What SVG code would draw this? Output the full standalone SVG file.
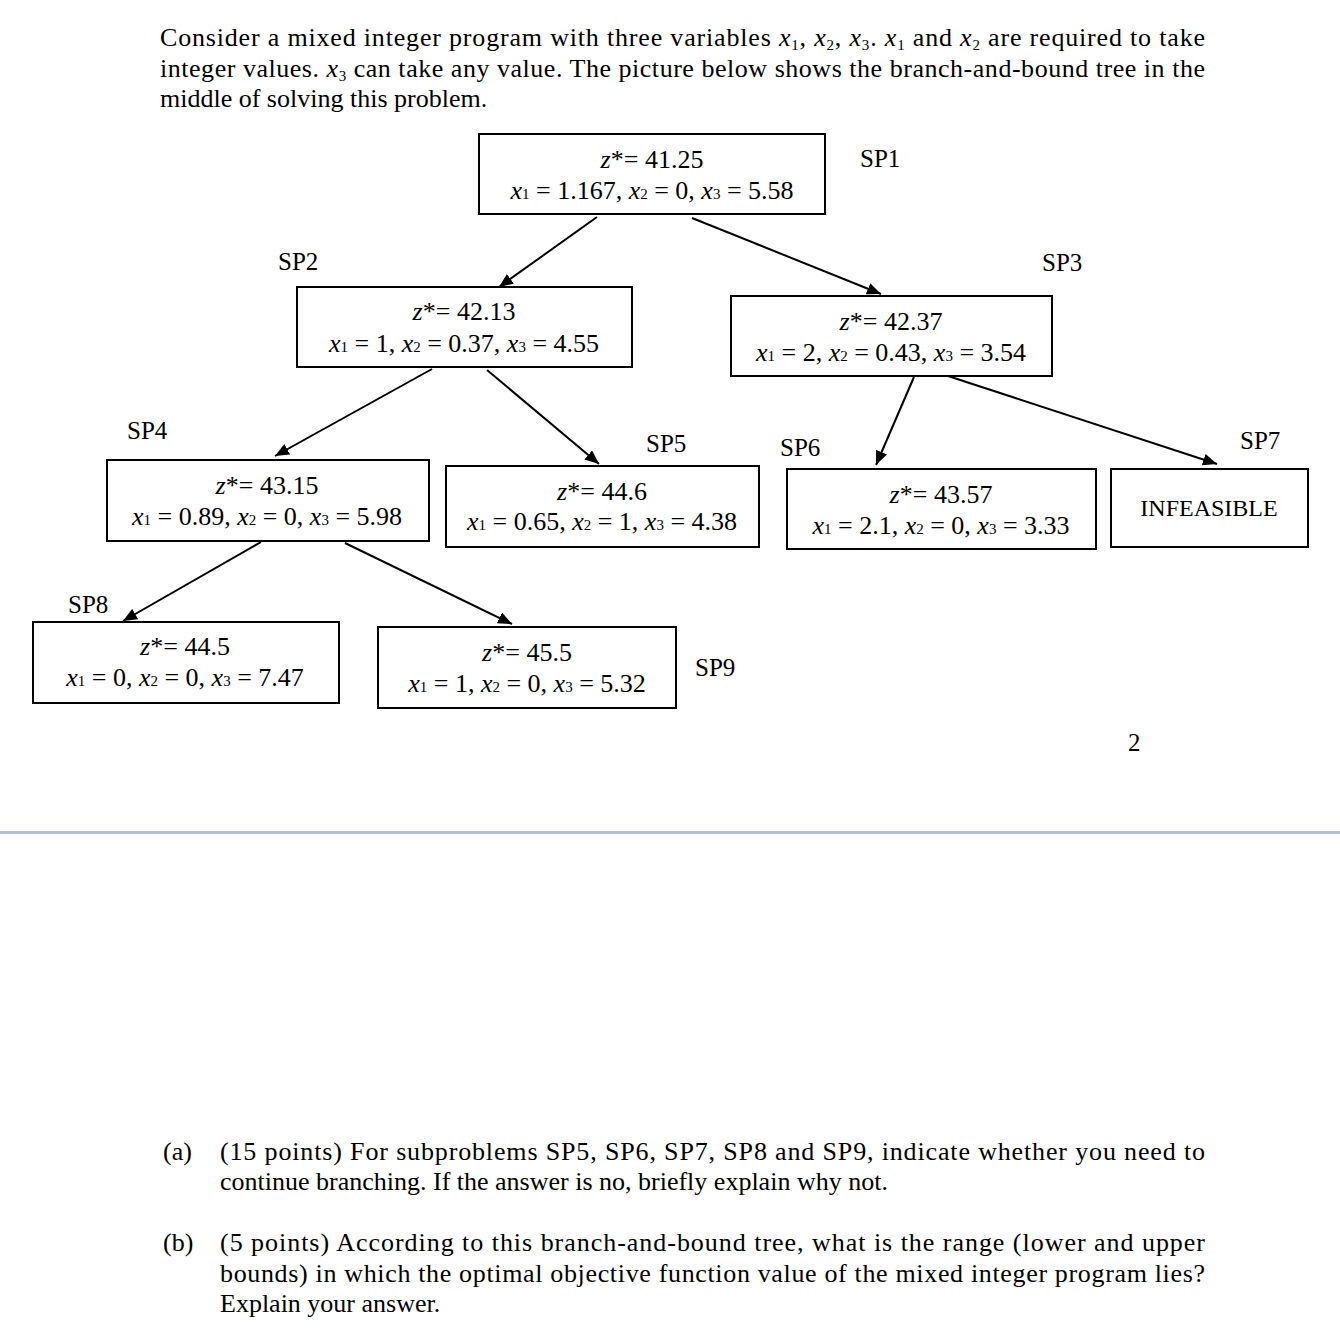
<svg xmlns="http://www.w3.org/2000/svg" width="1340" height="1334" viewBox="0 0 1340 1334">
<defs>
<marker id="ah" viewBox="0 0 14 12" refX="14" refY="6" markerWidth="14" markerHeight="12" markerUnits="userSpaceOnUse" orient="auto">
<path d="M0,0 L14,6 L0,12 z" fill="#000"/>
</marker>
<style>
text{font-family:"Liberation Serif","Times New Roman",serif;fill:#000;}
.t{font-size:26px;}
.n{font-size:26px;text-anchor:middle;}
.lab{font-size:25px;}
.i{font-style:italic;}
.s{font-size:15px;}
.box{fill:#fff;stroke:#000;stroke-width:2;}
.c{stroke:#000;stroke-width:2;fill:none;}
</style>
</defs>
<rect width="1340" height="1334" fill="#fff"/>

<g id="intro">
<text class="t" x="160" y="46" textLength="1045" lengthAdjust="spacing">Consider a mixed integer program with three variables <tspan class="i">x</tspan><tspan class="s" dy="4">1</tspan><tspan dy="-4">, </tspan><tspan class="i">x</tspan><tspan class="s" dy="4">2</tspan><tspan dy="-4">, </tspan><tspan class="i">x</tspan><tspan class="s" dy="4">3</tspan><tspan dy="-4">. </tspan><tspan class="i">x</tspan><tspan class="s" dy="4">1</tspan><tspan dy="-4"> and </tspan><tspan class="i">x</tspan><tspan class="s" dy="4">2</tspan><tspan dy="-4"> are required to take</tspan></text>
<text class="t" x="160" y="77" textLength="1045" lengthAdjust="spacing">integer values. <tspan class="i">x</tspan><tspan class="s" dy="4">3</tspan><tspan dy="-4"> can take any value. The picture below shows the branch-and-bound tree in the</tspan></text>
<text class="t" x="160" y="107">middle of solving this problem.</text>
</g>

<g id="connectors">
<line class="c" x1="597" y1="217" x2="499" y2="287" marker-end="url(#ah)"/>
<line class="c" x1="692" y1="218" x2="881" y2="294" marker-end="url(#ah)"/>
<line class="c" x1="432" y1="369" x2="275" y2="456" marker-end="url(#ah)"/>
<line class="c" x1="487" y1="370" x2="599" y2="464" marker-end="url(#ah)"/>
<line class="c" x1="914" y1="377" x2="876" y2="465" marker-end="url(#ah)"/>
<line class="c" x1="948" y1="376" x2="1217" y2="464" marker-end="url(#ah)"/>
<line class="c" x1="261" y1="542" x2="123" y2="621" marker-end="url(#ah)"/>
<line class="c" x1="345" y1="543" x2="512" y2="624" marker-end="url(#ah)"/>
</g>

<g id="SP1">
<rect class="box" x="479" y="134" width="346" height="80"/>
<text class="n" x="652" y="168"><tspan class="i">z</tspan>*= 41.25</text>
<text class="n" x="652" y="199"><tspan class="i">x</tspan><tspan class="s">1</tspan> = 1.167, <tspan class="i">x</tspan><tspan class="s">2</tspan> = 0, <tspan class="i">x</tspan><tspan class="s">3</tspan> = 5.58</text>
<text class="lab" x="860" y="167">SP1</text>
</g>

<g id="SP2">
<rect class="box" x="297" y="287" width="335" height="80"/>
<text class="n" x="464" y="320"><tspan class="i">z</tspan>*= 42.13</text>
<text class="n" x="464" y="352"><tspan class="i">x</tspan><tspan class="s">1</tspan> = 1, <tspan class="i">x</tspan><tspan class="s">2</tspan> = 0.37, <tspan class="i">x</tspan><tspan class="s">3</tspan> = 4.55</text>
<text class="lab" x="278" y="270">SP2</text>
</g>

<g id="SP3">
<rect class="box" x="731" y="296" width="321" height="80"/>
<text class="n" x="891" y="330"><tspan class="i">z</tspan>*= 42.37</text>
<text class="n" x="891" y="361"><tspan class="i">x</tspan><tspan class="s">1</tspan> = 2, <tspan class="i">x</tspan><tspan class="s">2</tspan> = 0.43, <tspan class="i">x</tspan><tspan class="s">3</tspan> = 3.54</text>
<text class="lab" x="1042" y="271">SP3</text>
</g>

<g id="SP4">
<rect class="box" x="107" y="460" width="322" height="81"/>
<text class="n" x="267" y="494"><tspan class="i">z</tspan>*= 43.15</text>
<text class="n" x="267" y="525"><tspan class="i">x</tspan><tspan class="s">1</tspan> = 0.89, <tspan class="i">x</tspan><tspan class="s">2</tspan> = 0, <tspan class="i">x</tspan><tspan class="s">3</tspan> = 5.98</text>
<text class="lab" x="127" y="439">SP4</text>
</g>

<g id="SP5">
<rect class="box" x="446" y="466" width="313" height="81"/>
<text class="n" x="602" y="500"><tspan class="i">z</tspan>*= 44.6</text>
<text class="n" x="602" y="530"><tspan class="i">x</tspan><tspan class="s">1</tspan> = 0.65, <tspan class="i">x</tspan><tspan class="s">2</tspan> = 1, <tspan class="i">x</tspan><tspan class="s">3</tspan> = 4.38</text>
<text class="lab" x="646" y="452">SP5</text>
</g>

<g id="SP6">
<rect class="box" x="787" y="469" width="309" height="80"/>
<text class="n" x="941" y="503"><tspan class="i">z</tspan>*= 43.57</text>
<text class="n" x="941" y="534"><tspan class="i">x</tspan><tspan class="s">1</tspan> = 2.1, <tspan class="i">x</tspan><tspan class="s">2</tspan> = 0, <tspan class="i">x</tspan><tspan class="s">3</tspan> = 3.33</text>
<text class="lab" x="780" y="456">SP6</text>
</g>

<g id="SP7">
<rect class="box" x="1111" y="469" width="197" height="78"/>
<text class="n" x="1209" y="516" style="font-size:24px">INFEASIBLE</text>
<text class="lab" x="1240" y="449">SP7</text>
</g>

<g id="SP8">
<rect class="box" x="33" y="622" width="306" height="81"/>
<text class="n" x="185" y="655"><tspan class="i">z</tspan>*= 44.5</text>
<text class="n" x="185" y="686"><tspan class="i">x</tspan><tspan class="s">1</tspan> = 0, <tspan class="i">x</tspan><tspan class="s">2</tspan> = 0, <tspan class="i">x</tspan><tspan class="s">3</tspan> = 7.47</text>
<text class="lab" x="68" y="613">SP8</text>
</g>

<g id="SP9">
<rect class="box" x="378" y="627" width="298" height="81"/>
<text class="n" x="527" y="661"><tspan class="i">z</tspan>*= 45.5</text>
<text class="n" x="527" y="692"><tspan class="i">x</tspan><tspan class="s">1</tspan> = 1, <tspan class="i">x</tspan><tspan class="s">2</tspan> = 0, <tspan class="i">x</tspan><tspan class="s">3</tspan> = 5.32</text>
<text class="lab" x="695" y="676">SP9</text>
</g>

<g id="page">
<text class="lab" x="1128" y="751">2</text>
<rect x="0" y="831" width="1340" height="3" fill="#b3bfd9"/>
</g>

<g id="questions">
<text class="t" x="163" y="1160">(a)</text>
<text class="t" x="220" y="1160" textLength="985" lengthAdjust="spacing">(15 points) For subproblems SP5, SP6, SP7, SP8 and SP9, indicate whether you need to</text>
<text class="t" x="220" y="1190">continue branching. If the answer is no, briefly explain why not.</text>
<text class="t" x="163" y="1251">(b)</text>
<text class="t" x="220" y="1251" textLength="985" lengthAdjust="spacing">(5 points) According to this branch-and-bound tree, what is the range (lower and upper</text>
<text class="t" x="220" y="1282" textLength="985" lengthAdjust="spacing">bounds) in which the optimal objective function value of the mixed integer program lies?</text>
<text class="t" x="220" y="1312">Explain your answer.</text>
</g>
</svg>
